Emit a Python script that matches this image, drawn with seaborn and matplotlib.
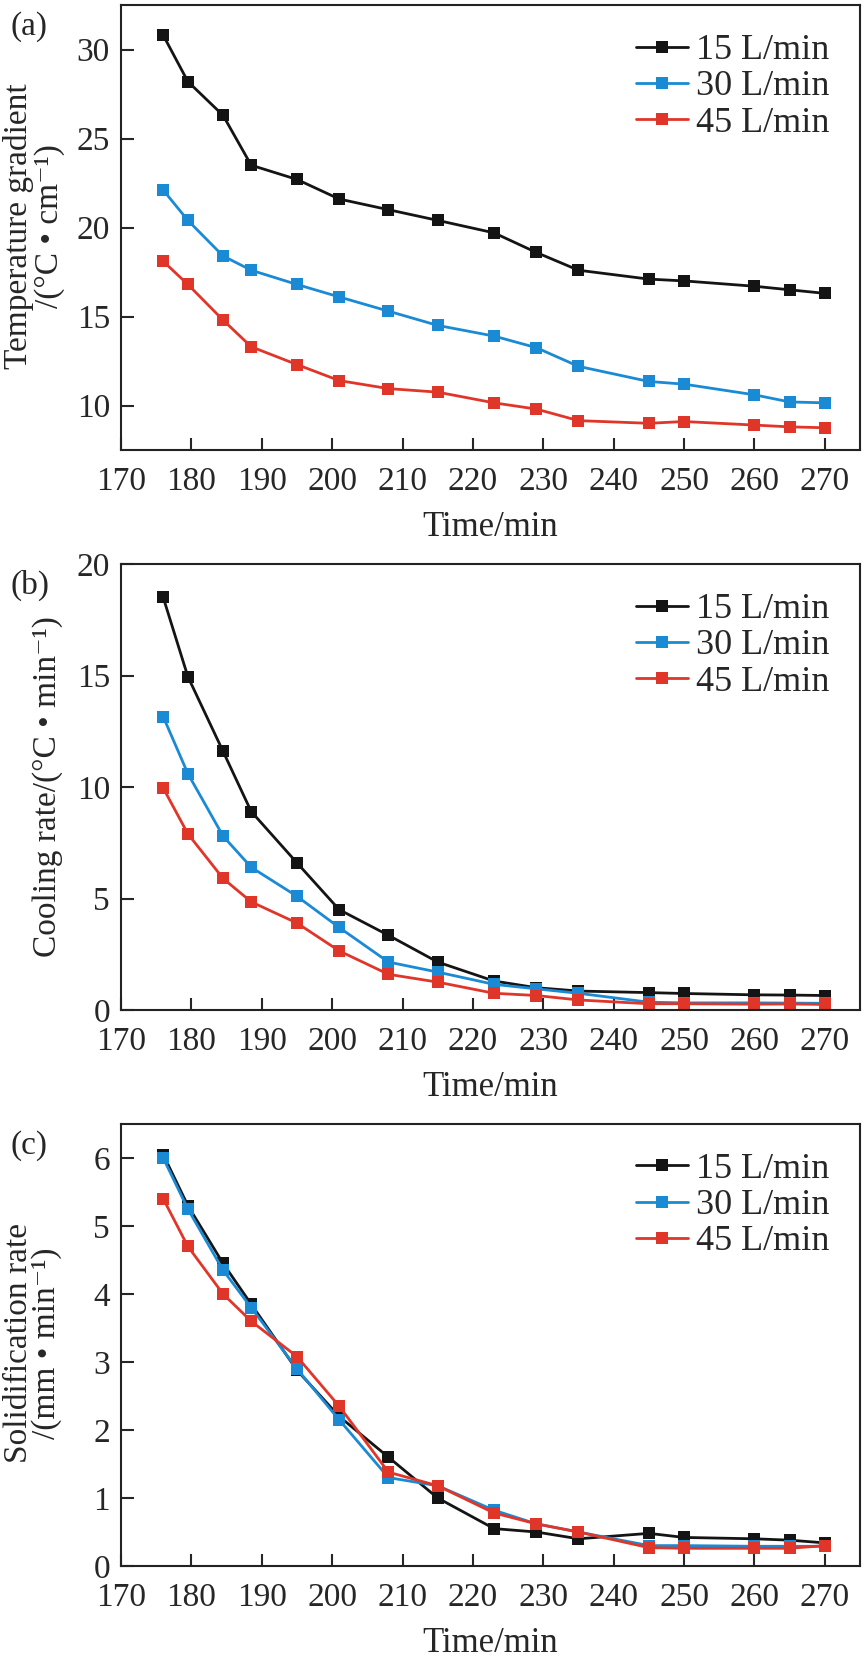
import matplotlib
matplotlib.use('Agg')
import matplotlib.pyplot as plt
import seaborn as sns
import pandas as pd

# time points (min)
time_min = [176, 179.5, 184.5, 188.5, 195, 201, 208, 215, 223, 229, 235, 245, 250, 260, 265, 270]
flow_labels = ['15 L/min', '30 L/min', '45 L/min']

# (a) temperature gradient
grad_15 = [30.8, 28.2, 26.3, 23.5, 22.7, 21.6, 21.0, 20.4, 19.7, 18.6, 17.6, 17.1, 17.0, 16.7, 16.5, 16.3]
grad_30 = [22.1, 20.4, 18.4, 17.6, 16.8, 16.1, 15.3, 14.5, 13.9, 13.25, 12.2, 11.35, 11.2, 10.6, 10.2, 10.15]
grad_45 = [18.1, 16.8, 14.8, 13.3, 12.3, 11.4, 10.95, 10.75, 10.15, 9.8, 9.15, 9.0, 9.1, 8.9, 8.8, 8.75]

# (b) cooling rate
cool_15 = [18.5, 14.95, 11.6, 8.9, 6.6, 4.5, 3.35, 2.15, 1.3, 1.0, 0.85, 0.78, 0.74, 0.68, 0.67, 0.65]
cool_30 = [13.15, 10.6, 7.8, 6.4, 5.1, 3.7, 2.15, 1.7, 1.15, 0.95, 0.75, 0.35, 0.32, 0.32, 0.31, 0.3]
cool_45 = [9.95, 7.9, 5.9, 4.85, 3.9, 2.65, 1.6, 1.25, 0.75, 0.65, 0.45, 0.28, 0.28, 0.26, 0.27, 0.25]

# (c) solidification rate
sol_15 = [6.05, 5.3, 4.45, 3.85, 2.88, 2.2, 1.6, 1.0, 0.55, 0.5, 0.4, 0.48, 0.42, 0.4, 0.38, 0.34]
sol_30 = [6.0, 5.25, 4.35, 3.8, 2.9, 2.15, 1.3, 1.18, 0.82, 0.62, 0.5, 0.3, 0.3, 0.29, 0.29, 0.29]
sol_45 = [5.4, 4.7, 4.0, 3.6, 3.08, 2.35, 1.38, 1.18, 0.78, 0.62, 0.5, 0.27, 0.26, 0.26, 0.26, 0.3]

colors = ['#141414', '#1a8ad4', '#e0362a']

# tag, data, y label, ylim, yticks, label centre (px), label line spacing
panels = [
    ('(a)', [grad_15, grad_30, grad_45], 'Temperature gradient\n/(\u00b0C \u2022 cm\u207b\u00b9)',
     (7.5, 32.5), [10, 15, 20, 25, 30], (34, 226), 1.0),
    ('(b)', [cool_15, cool_30, cool_45], 'Cooling rate/(\u00b0C \u2022 min\u207b\u00b9)',
     (0, 20), [0, 5, 10, 15, 20], (48, 787), 1.0),
    ('(c)', [sol_15, sol_30, sol_45], 'Solidification rate\n/(mm \u2022 min\u207b\u00b9)',
     (0, 6.5), [0, 1, 2, 3, 4, 5, 6], (33, 1343), 0.88),
]

sns.set_style('ticks')
plt.rcParams['font.family'] = ['Liberation Serif', 'DejaVu Serif']

fig = plt.figure(figsize=(8.64, 16.63), dpi=100)
H = 1663.0
W = 864.0
# axes pixel boxes (top, bottom)
boxes = [(5, 450), (564, 1010), (1124, 1566)]
left_px, right_px = 121, 860
ax_w = right_px - left_px

for (tag, series, ylab, ylim, yticks, lab_xy, lsp), (top, bot) in zip(panels, boxes):
    ax = fig.add_axes([left_px / W, 1 - bot / H, ax_w / W, (bot - top) / H])
    rows = []
    for lab, vals in zip(flow_labels, series):
        for t, v in zip(time_min, vals):
            rows.append({'time': t, 'value': v, 'flow': lab})
    df = pd.DataFrame(rows)
    sns.lineplot(data=df, x='time', y='value', hue='flow', palette=colors,
                 marker='s', markersize=8, markeredgewidth=0, linewidth=2,
                 ax=ax, legend=True)
    ax.set_xlim(170, 275)
    ax.set_ylim(*ylim)
    ax.set_xticks(range(170, 271, 10))
    ax.set_yticks(yticks)
    ax.tick_params(direction='in', length=9, width=1.5, labelsize=24)
    ax.tick_params(axis='x', pad=12)
    ax.tick_params(axis='y', pad=8)
    for s in ax.spines.values():
        s.set_linewidth(1.5)
        s.set_color('#222222')
    ax.set_xlabel('Time/min', fontsize=25, labelpad=10)
    ax.set_ylabel(ylab, fontsize=24, linespacing=lsp, va='center', ha='center')
    ax.yaxis.set_label_coords((lab_xy[0] - left_px) / ax_w,
                              (bot - lab_xy[1]) / (bot - top))
    ax.legend(loc='upper right', bbox_to_anchor=(0.958, 0.935), frameon=False,
              fontsize=26, handlelength=1.45, handletextpad=0.2, labelspacing=0.08,
              borderpad=0, borderaxespad=0)
    fig.text(10 / W, 1 - (top + 6) / H, tag, fontsize=24, va='top', ha='left')

fig.savefig('out.png', dpi=100)
